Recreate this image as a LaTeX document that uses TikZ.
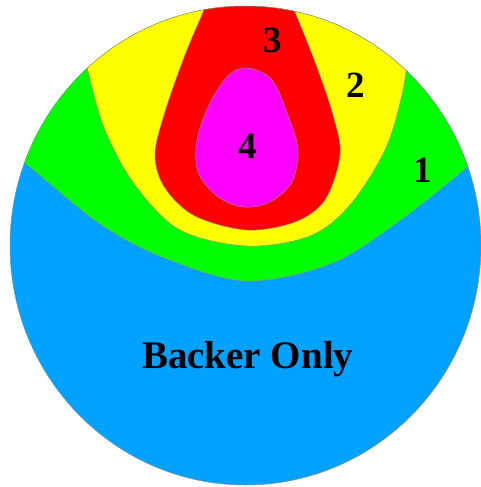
\documentclass[tikz,border=0pt]{standalone}
\usepackage{fontspec}
\setmainfont{Liberation Serif}
\definecolor{zoneblue}{RGB}{0,162,255}
\definecolor{zonegreen}{RGB}{0,255,0}
\definecolor{zoneyellow}{RGB}{255,255,0}
\definecolor{zonered}{RGB}{255,0,0}
\definecolor{zonemagenta}{RGB}{255,0,255}
\tikzset{
  edge/.style={draw=black!45, line width=0.5pt},
  zlabel/.style={font=\fontsize{37}{37}\selectfont\bfseries, inner sep=0pt, anchor=base},
}
\begin{document}
\begin{tikzpicture}[x=1pt,y=-1pt]
\useasboundingbox (0,0) rectangle (481,487);
% outer disc
\fill[zoneblue] (245.5,245.5) ellipse [x radius=235.5, y radius=239.5];
\begin{scope}
  \clip (245.5,245.5) ellipse [x radius=235.5, y radius=239.5];
  % zone 1
  \filldraw[fill=zonegreen, edge] plot[smooth, tension=0.55] coordinates {
    (5,148) (25,163) (100,224) (167,259) (247,281) (333,263) (405,217)
    (470,165) (490,148)}
    -- (490,-5) -- (5,-5) -- cycle;
  % zone 2
  \filldraw[fill=zoneyellow, edge] plot[smooth, tension=0.55] coordinates {
    (86,55) (89,75) (105,130) (135,185) (180,230) (247,246) (310,236)
    (350,205) (385,150) (402,95) (408,55)}
    -- (408,-5) -- (86,-5) -- cycle;
  % zone 3
  \filldraw[fill=zonered, edge] plot[smooth, tension=0.55] coordinates {
    (208,-2) (204,10) (185,55) (165,112) (155,155) (165,188) (195,216)
    (247,230) (295,222) (325,200) (340,155) (333,115) (315,62) (292,5) (288,-2)}
    -- cycle;
  % zone 4
  \filldraw[fill=zonemagenta, edge] plot[smooth cycle, tension=0.55] coordinates {
    (247,68) (272,80) (289,118) (298,150) (292,182) (270,202) (243,207)
    (217,196) (198,172) (197,140) (210,103) (228,76)};
\end{scope}
\draw[edge] (245.5,245.5) ellipse [x radius=235.5, y radius=239.5];
% zone labels
\node[zlabel] (l3) at (273,52.5) {3};
\node[zlabel] (l2) at (355.5,97) {2};
\node[zlabel] (l4) at (247.5,158) {4};
\node[zlabel] (l1) at (422.5,182) {1};
\node[zlabel, font=\fontsize{39}{39}\selectfont\bfseries] (lb) at (247.7,368) {Backer Only};
\end{tikzpicture}
\end{document}
